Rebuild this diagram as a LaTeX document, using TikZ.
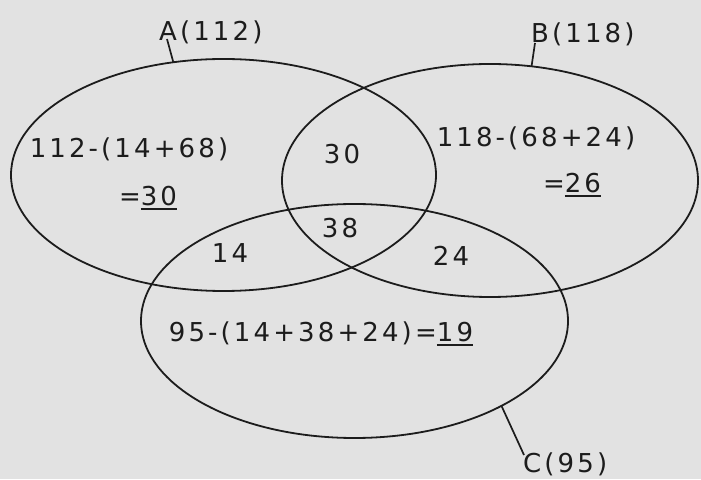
\documentclass[tikz,border=0pt]{standalone}
\usepackage{fontspec}
\setmainfont{DejaVu Sans}[LetterSpace=12]
\usetikzlibrary{shapes.geometric,calc}
\definecolor{bgc}{RGB}{226,226,226}
\definecolor{ink}{RGB}{28,28,28}
\newcommand\undl[1]{\setbox0\hbox{#1}\rlap{\color{ink}\rule[-4pt]{\wd0}{2pt}}\box0}
\tikzset{
  setring/.style={ellipse, draw=ink, line width=1.8pt, inner sep=0pt, outer sep=0pt},
  num/.style={text=ink, inner sep=0pt, anchor=base, font=\fontsize{26}{30}\selectfont},
  lab/.style={text=ink, inner sep=0pt, anchor=base west, font=\fontsize{26}{30}\selectfont},
  tick/.style={draw=ink, line width=1.7pt}
}
\begin{document}
\begin{tikzpicture}[x=1pt,y=1pt]
\fill[bgc] (0,0) rectangle (701,479);
\useasboundingbox (0,0) rectangle (701,479);
% sets
\node[setring, minimum width=425pt, minimum height=232pt] (A) at (223.5,304) {};
\node[setring, minimum width=416pt, minimum height=233pt] (B) at (490,298.5) {};
\node[setring, minimum width=427pt, minimum height=234pt] (C) at (354.5,158) {};
% set labels
\node[lab] (la) at (159,438) {A(112)};
\node[lab] (lb) at (531,436) {B(118)};
\node[lab] (lc) at (523,7) {C(95)};
\draw[tick] (A.114.7) -- ($(la.base west)+(8,2)$);
\draw[tick] (B.70.3) -- ($(lb.base west)+(4,0)$);
\draw[tick] (C.-30.4) -- ($(lc.base west)+(1,17)$);
% region values
\node[num] (a1) at (129,321) {112-(14+68)};
\node[num] (a2) at (148,273) {=\undl{30}};
\node[num] (ab) at (342,315) {30};
\node[num] (abc) at (340,241) {38};
\node[num] (ac) at (230,216) {14};
\node[num] (bc) at (451,213) {24};
\node[num] (b1) at (536,332) {118-(68+24)};
\node[num] (b2) at (572,286) {=\undl{26}};
\node[num] (c1) at (321,137) {95-(14+38+24)=\undl{19}};
\end{tikzpicture}
\end{document}
